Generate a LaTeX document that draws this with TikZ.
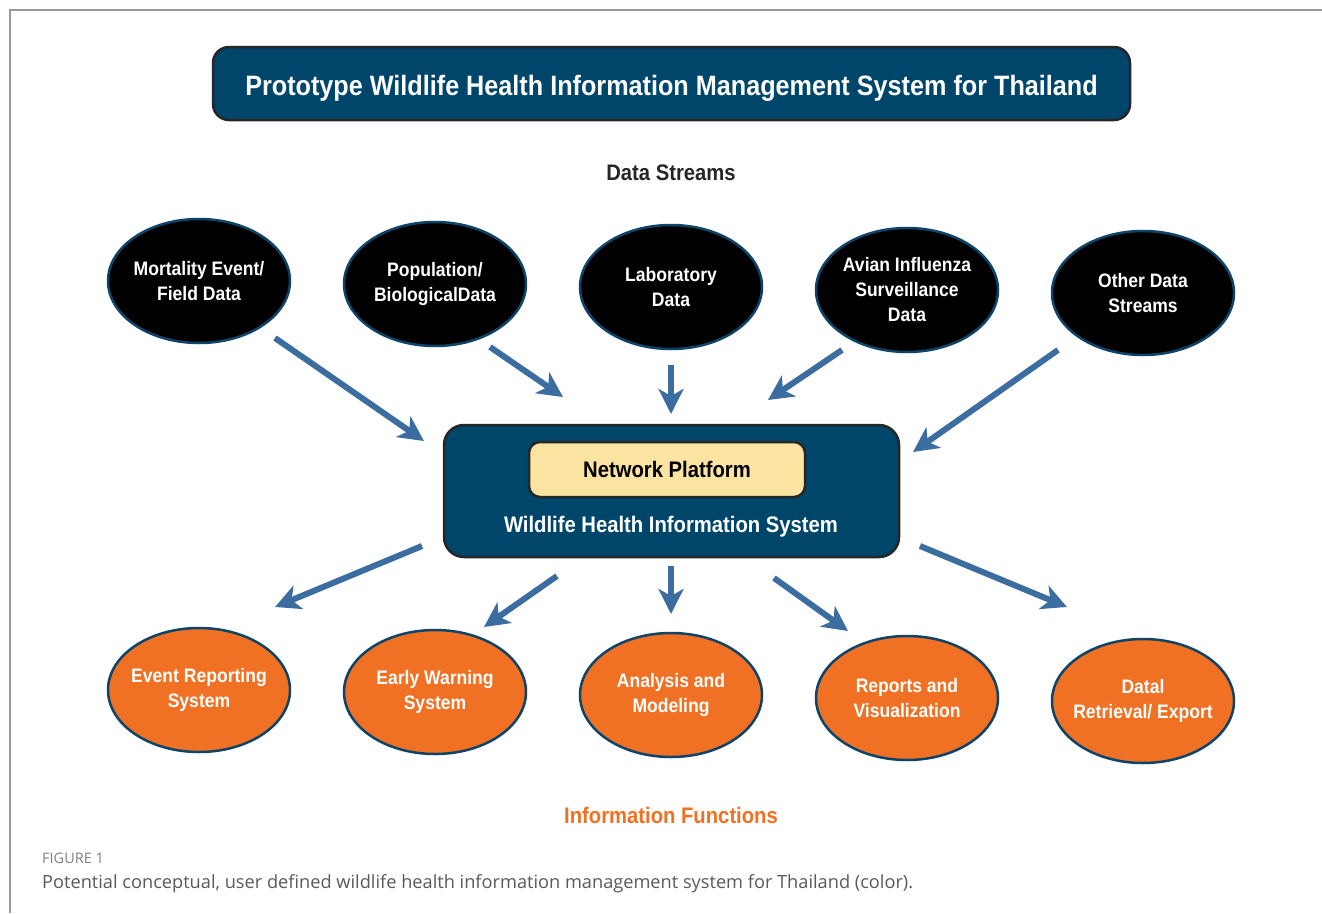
\documentclass[tikz,border=0pt]{standalone}
\usepackage{fontspec}
\setmainfont{Liberation Sans}
\newfontfamily\condfont[FakeStretch=0.9]{Liberation Sans}
\newfontfamily\capfont{Open Sans}
\usetikzlibrary{shapes.geometric,arrows.meta}
\definecolor{navy}{HTML}{00466B}
\definecolor{rim}{HTML}{0E4468}
\definecolor{arrblue}{HTML}{3C6DA0}
\definecolor{fnorange}{HTML}{F07123}
\definecolor{platform}{HTML}{FBE3A2}
\definecolor{capgray}{HTML}{5A5A5A}
\newcommand{\hd}[1]{\condfont\bfseries\fontsize{#1}{#1}\selectfont}
\newcommand{\ovl}{\condfont\bfseries\fontsize{19.5}{25}\selectfont}

\begin{document}
\begin{tikzpicture}[x=1pt,y=-1pt,
    src/.style={ellipse,draw=rim,line width=2.5pt,fill=black,text=white,minimum width=182pt,minimum height=124pt,inner xsep=-25pt,inner ysep=0pt,align=center,font=\ovl},
    fn/.style={src,fill=fnorange},
    box/.style={draw=black!85,line width=2.5pt,rounded corners=16pt},
    arr/.style={draw=arrblue,line width=6pt,-{Stealth[length=25pt,width=25pt,inset=7pt]}}]
    \useasboundingbox(0,0)rectangle(1322,913);
    \fill[white](0,0)rectangle(1322,913);
    \draw[gray!80,line width=1.5pt](10,913)--(10,10)--(1322,10);
    \node[box,fill=navy,minimum width=917pt,minimum height=73pt](title)at(671.5,83.5){};
    \node[text=white,font=\hd{28}](titlelabel)at(671.5,88){Prototype Wildlife Health Information Management System for Thailand};
    \node[text=black!85,font=\hd{22.5}](streams)at(671,173){Data Streams};
    \node[src](mort)at(199,281){Mortality Event/\\Field Data};
    \node[src](popu)at(435,284){Population/\\BiologicalData};
    \node[src](labo)at(671,287){Laboratory\\Data};
    \node[src](avia)at(907,290){Avian Influenza\\Surveillance\\Data};
    \node[src](othe)at(1143,293){Other Data\\Streams};
    \node[box,fill=navy,rounded corners=20pt,minimum width=455pt,minimum height=132pt](whis)at(671.5,491){};
    \node[box,fill=platform,rounded corners=11pt,minimum width=276pt,minimum height=55pt,font=\hd{22.5}](netw)at(667,469.5){Network Platform};
    \node[text=white,font=\hd{22.5}](whislabel)at(671,527){Wildlife Health Information System};
    \node[fn](even)at(199,690){Event Reporting\\System};
    \node[fn](earl)at(435,692){Early Warning\\System};
    \node[fn](anal)at(671,695){Analysis and\\Modeling};
    \node[fn](repo)at(907,698){Reports and\\Visualization};
    \node[fn](retr)at(1143,701){Datal\\Retrieval/ Export};
    \node[text=fnorange,font=\hd{22.5}](functions)at(671,815){Information Functions};
    \foreach \n/\xa/\ya/\xb/\yb in {mort/275/338/424/441,popu/490/347/563/397,labo/671/365/671/414,
        avia/842/350/768/400,othe/1058/350/913/452,even/422/546/275/607,earl/557/576/484/627,
        anal/671/566/671/614,repo/774/578/848/631,retr/920/546/1067/607}{
        \coordinate(\n-s)at(\xa,\ya);
        \coordinate(\n-e)at(\xb,\yb);
        \draw[arr](\n-s)--(\n-e);
    }
    \node[anchor=base west,inner sep=0pt,text=gray,font=\capfont\fontsize{14.5}{14.5}\selectfont](fig)at(42,863){FIGURE 1};
    \node[anchor=base west,inner sep=0pt,text=capgray,font=\capfont\fontsize{18.2}{18.2}\selectfont](caption)at(42,888){Potential conceptual, user defined wildlife health information management system for Thailand (color).};
\end{tikzpicture}
\end{document}
